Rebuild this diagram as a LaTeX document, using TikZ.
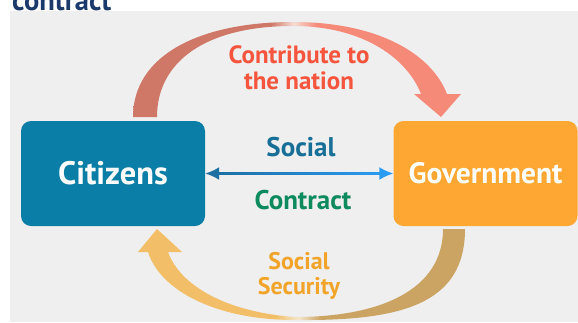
\documentclass[tikz,border=0pt]{standalone}
\usepackage{fontspec}
\setmainfont{PT Sans}
\usetikzlibrary{arrows.meta,calc}

\definecolor{bggray}{HTML}{EFEFEF}
\definecolor{titleblue}{HTML}{1B3A6B}
\definecolor{citblue}{HTML}{0A7EA6}
\definecolor{govorange}{HTML}{FEA833}
\definecolor{upleft}{HTML}{CF7868}
\definecolor{upright}{HTML}{F58A79}
\definecolor{uplight}{HTML}{F6DCD4}
\definecolor{contribred}{HTML}{F5553D}
\definecolor{lowleft}{HTML}{F2BF68}
\definecolor{lowright}{HTML}{CBA463}
\definecolor{lowlight}{HTML}{F4E6CC}
\definecolor{securorange}{HTML}{F2A42A}
\definecolor{socialblue}{HTML}{176E96}
\definecolor{contractgreen}{HTML}{0E8A5F}
\definecolor{linkdark}{HTML}{1E6FA2}
\definecolor{linkbright}{HTML}{2A9BF2}

\pgfdeclarehorizontalshading{upshade}{100bp}{color(0bp)=(upleft); color(46bp)=(upleft); color(49.5bp)=(uplight); color(53bp)=(upright); color(100bp)=(upright)}
\pgfdeclarehorizontalshading{lowshade}{100bp}{color(0bp)=(lowleft); color(46bp)=(lowleft); color(49.5bp)=(lowlight); color(53bp)=(lowright); color(100bp)=(lowright)}

\newcommand{\bigText}[2]{\fontsize{#1}{#2}\selectfont\bfseries}
\newcommand{\printBox}[6]{\node [box, fill=#4, font=\bigText{#6}{#6}] (#1) at (#2,#3) {#5};}

\begin{document}
\begin{tikzpicture}[x=1pt,y=-1pt,line join=round,>={Latex[length=14pt,width=13pt]},
    box/.style={rounded corners=10pt, minimum width=184pt, minimum height=105pt,
        inner sep=0pt, text=white},
    tag/.style={anchor=base, inner sep=0pt, align=center}]
  \useasboundingbox (0,0) rectangle (578,322);
  \fill [bggray] (10,11) rectangle (578,322);
  \begin{scope}
    \clip (0,0) rectangle (578,11);
    \node [anchor=base west, inner sep=0pt, text=titleblue, font=\bigText{28.5}{28.5}] (title) at (12,10) {contract};
  \end{scope}

  \printBox{cit}{113}{173.5}{citblue}{Citizens}{32.5}
  \printBox{gov}{485.5}{173.5}{govorange}{Government}{29.5}

  \shade [shading=upshade] (133,117) .. controls (133,55) and (200,22) .. (293,22)
    .. controls (380,22) and (432,55) .. (447,94) -- (461,94) -- (441,117) -- (414,94) -- (421,94)
    .. controls (408,60) and (365,26) .. (293,26) .. controls (205,26) and (157,62) .. (157,117) -- cycle;
  \shade [shading=lowshade] (465,229) .. controls (465,305) and (400,321) .. (295,320)
    .. controls (215,320) and (160,290) .. (148,252) -- (138,252) -- (157,229) -- (182,252) -- (168,252)
    .. controls (180,285) and (225,312) .. (295,317) .. controls (380,317) and (443,290) .. (443,229) -- cycle;

  \node [tag, text=contribred, font=\bigText{25}{26}] (contrib) at (299,89) {Contribute to\\the nation};
  \node [tag, text=securorange, font=\bigText{24}{25}] (secur) at (299,294) {Social\\Security};
  \node [tag, text=socialblue, font=\bigText{27}{27}] (social) at (301,156) {Social};
  \node [tag, text=contractgreen, font=\bigText{27}{27}] (contract) at (303,209) {Contract};

  \coordinate (mid) at ($(cit.east)!0.5!(gov.west)$);
  \draw [->, linkdark, line width=2pt] (mid) -- (cit);
  \draw [->, linkbright, line width=2pt] (mid) -- (gov);
  \shade [left color=linkdark, right color=linkbright] ([xshift=12pt,yshift=-1pt]cit.east) rectangle ([xshift=-12pt,yshift=1pt]gov.west);
\end{tikzpicture}
\end{document}
